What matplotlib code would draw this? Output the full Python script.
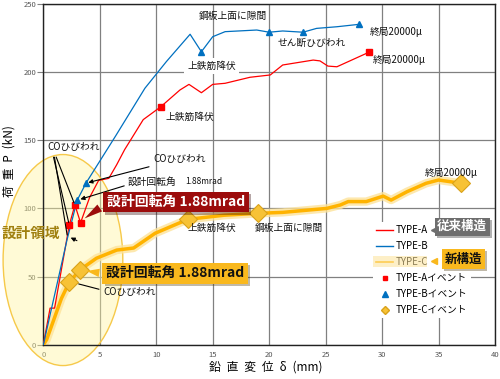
import matplotlib
matplotlib.use('Agg')
import matplotlib.pyplot as plt
import matplotlib.patheffects as pe
from matplotlib.lines import Line2D
from matplotlib.patches import Ellipse, Rectangle

plt.rcParams['font.family'] = ['Noto Sans CJK JP', 'DejaVu Sans']

# TYPE-A (従来構造)
type_a_x = [0, 0.6, 1.0, 2.3, 2.8, 3.3, 4.1, 4.9, 5.8, 6.5, 7.2, 8.85, 10.4, 12.1, 12.9,
            14.0, 15.0, 16.1, 18.3, 20.1, 21.2, 23.9, 24.5, 25.2, 26.0, 28.8]
type_a_y = [0, 27, 27, 87.8, 102.5, 89.5, 108, 120.5, 122, 132, 143, 165, 174.4, 186.7, 190.8,
            184.7, 190.8, 191.6, 196, 197.7, 205, 208.6, 208, 204.2, 203.7, 214.2]
type_a_ev_x = [2.3, 2.8, 3.3, 10.4, 28.8]
type_a_ev_y = [87.8, 102.5, 89.5, 174.4, 214.2]

# TYPE-B (従来構造)
type_b_x = [0, 2.1, 3.0, 3.8, 6.4, 9.0, 10.9, 13.0, 14.0, 15.0, 16.1, 18.9, 20.0, 21.2,
            23.0, 24.2, 26.0, 28.0]
type_b_y = [0, 77, 106, 118.8, 153, 188, 207.5, 227.5, 214.7, 225.7, 229.4, 230.6, 229, 229.9,
            229, 231.8, 233, 234.8]
type_b_ev_x = [3.0, 3.8, 14.0, 20.0, 23.0, 28.0]
type_b_ev_y = [106, 118.8, 214.7, 229, 229, 234.8]

# TYPE-C (新構造)
type_c_x = [0, 0.3, 1.6, 2.3, 3.25, 4.7, 6.5, 8.0, 9.9, 12.8, 16.0, 19.0, 21.2, 25.1, 26.3,
            27.0, 28.6, 30.1, 30.8, 32.2, 33.9, 35.0, 37.0]
type_c_y = [0, 4, 34, 46, 55, 63.5, 69.5, 71, 81.8, 92, 95, 96.4, 97.1, 100, 102.5,
            105, 105, 109, 106.1, 112.2, 118.4, 120.8, 118.4]
type_c_ev_x = [2.3, 3.25, 12.8, 19.0, 37.0]
type_c_ev_y = [46, 55, 92, 96.4, 118.4]

RED = '#ff0000'
BLUE = '#0070c0'
GOLD = '#ffb300'
HALO = '#fde39a'

fig = plt.figure(figsize=(5.0, 3.79), dpi=100)
ax = fig.add_axes([0.0866, 0.0897, 0.9034, 0.901])
ax.set_xlim(0, 40)
ax.set_ylim(0, 250)
ax.set_xticks(range(0, 41, 5))
ax.set_yticks(range(0, 251, 50))
ax.grid(True, color='#808080', lw=0.9)
ax.set_axisbelow(True)
ax.tick_params(axis='x', length=0, labelsize=5.5, labelcolor='#555555', pad=4)
ax.tick_params(axis='y', length=4, width=0.8, color='#808080', labelsize=5.5,
               labelcolor='#555555', pad=1)
for s in ax.spines.values():
    s.set_color('#222222')
    s.set_linewidth(1)

sp = '\u2002'
ax.set_xlabel(sp.join(['鉛', '直', '変', '位', 'δ', '(mm)']), fontsize=8.5)
ax.xaxis.set_label_coords(0.493, -0.046)
ax.set_ylabel(sp.join(['荷', '重', 'P', '(kN)']), fontsize=8.5)
ax.yaxis.set_label_coords(-0.062, 0.54)

# design region
ell = Ellipse((1.74, 62.2), 10.6, 154.5, facecolor=(1, 0.96, 0.62, 0.42),
              edgecolor='#f6c94a', lw=1, zorder=0.6, clip_on=False)
ax.add_patch(ell)
ax.text(-1.1, 82, '設計領域', fontsize=10.5, fontweight='bold', color='#a08010',
        ha='center', va='center', zorder=7)

# curves
ax.plot(type_c_x, type_c_y, color=HALO, lw=6, alpha=0.8, solid_capstyle='round', zorder=2)
ax.plot(type_c_x, type_c_y, color=GOLD, lw=2.5, zorder=3)
ax.plot(type_a_x, type_a_y, color=RED, lw=0.9, zorder=3)
ax.plot(type_b_x, type_b_y, color=BLUE, lw=0.9, zorder=3)
ax.plot(type_a_ev_x, type_a_ev_y, ls='none', marker='s', ms=4.3, color=RED, zorder=4)
ax.plot(type_b_ev_x, type_b_ev_y, ls='none', marker='^', ms=4.5, color=BLUE, zorder=4)
ax.plot(type_c_ev_x, type_c_ev_y, ls='none', marker='D', ms=9, mfc='#f7c236', mec='#d9a21a',
        mew=0.8, zorder=4)

lab = dict(fontsize=7, color='#111111', zorder=6)
ax.text(16.8, 240.8, '鋼板上面に隙間', ha='center', va='center', **lab)
ax.text(14.9, 204.2, '上鉄筋降伏', ha='center', va='center',
        bbox=dict(boxstyle='square,pad=0.35', fc='white', ec='none'), **lab)
ax.text(13.0, 167, '上鉄筋降伏', ha='center', va='center', **lab)
ax.text(23.8, 220.9, 'せん断ひびわれ', ha='center', va='center', **lab)
ax.text(28.9, 229.4, '終局20000μ', ha='left', va='center', **lab)
ax.text(29.2, 208.6, '終局20000μ', ha='left', va='center', **lab)
ax.text(33.8, 126.1, '終局20000μ', ha='left', va='center', **lab)
ax.text(12.8, 85.4, '上鉄筋降伏', ha='left', va='center', **lab)
ax.text(18.7, 85.4, '鋼板上面に隙間', ha='left', va='center', **lab)
ax.text(2.65, 145.2, 'COひびわれ', ha='center', va='center', **lab)
ax.text(12.1, 135.9, 'COひびわれ', ha='center', va='center', **lab)
ax.text(7.5, 119.5, '設計回転角', ha='left', va='center', **lab)
ax.text(12.6, 119.5, '1.88mrad', ha='left', va='center', fontsize=6, color='#111111', zorder=6)
ax.text(5.3, 39.0, 'COひびわれ', ha='left', va='center', **lab)

# leaders
line = dict(arrowstyle='-', color='black', lw=0.8)
arrow = dict(arrowstyle='-|>', color='black', lw=0.8, mutation_scale=6)
ax.annotate('', xy=(2.3, 87.8), xytext=(0.85, 139.5), arrowprops=line, zorder=5)
ax.annotate('', xy=(2.8, 102.5), xytext=(1.05, 139.5), arrowprops=line, zorder=5)
ax.annotate('', xy=(2.15, 78.5), xytext=(0.95, 139.5), arrowprops=line, zorder=5)
ax.annotate('', xy=(2.2, 79.5), xytext=(3.2, 75.5), arrowprops=arrow, zorder=5)
ax.annotate('', xy=(3.75, 118.4), xytext=(9.6, 131), arrowprops=arrow, zorder=5)
ax.annotate('', xy=(3.05, 106.1), xytext=(7.4, 117.1), arrowprops=arrow, zorder=5)
ax.annotate('', xy=(2.9, 45.2), xytext=(5.17, 40.3), arrowprops=line, zorder=5)

# callout boxes
shadow = [pe.SimplePatchShadow(offset=(1.5, -1.5), alpha=0.35)]
ax.annotate('', xy=(3.45, 91.5), xytext=(5.2, 101.5),
            arrowprops=dict(arrowstyle='wedge,tail_width=0.6', color='#9c0c0c', lw=0), zorder=6)
t1 = ax.text(11.75, 104.7, '設計回転角 1.88mrad', fontsize=10, fontweight='bold', color='white',
             ha='center', va='center', zorder=7,
             bbox=dict(boxstyle='square,pad=0.25', fc='#9c0c0c', ec='none'))
t1.get_bbox_patch().set_path_effects(shadow + [pe.Normal()])
ax.annotate('', xy=(3.6, 54.5), xytext=(5.2, 52.5),
            arrowprops=dict(arrowstyle='wedge,tail_width=0.6', color='#f9b81d', lw=0), zorder=6)
t2 = ax.text(11.67, 52.5, '設計回転角 1.88mrad', fontsize=10, fontweight='bold', color='#111111',
             ha='center', va='center', zorder=7,
             bbox=dict(boxstyle='square,pad=0.25', fc='#f9b81d', ec='none'))
t2.get_bbox_patch().set_path_effects(shadow + [pe.Normal()])

# legend
handles = [
    Line2D([], [], color=RED, lw=1),
    Line2D([], [], color=BLUE, lw=1),
    Line2D([], [], color=GOLD, lw=1.2),
    Line2D([], [], ls='none', marker='s', ms=3.5, color=RED),
    Line2D([], [], ls='none', marker='^', ms=4, color=BLUE),
    Line2D([], [], ls='none', marker='D', ms=4, mfc='#f7c236', mec='#d9a21a'),
]
labels = ['TYPE-A', 'TYPE-B', 'TYPE-C', 'TYPE-Aイベント', 'TYPE-Bイベント', 'TYPE-Cイベント']
leg = ax.legend(handles, labels, loc='upper left', bbox_to_anchor=(0.73, 0.36),
                borderaxespad=0, borderpad=0.3, fontsize=7, frameon=True, facecolor='white',
                edgecolor='none', framealpha=1, fancybox=False, handlelength=1.8,
                handletextpad=0.25, labelspacing=0.62)
leg.set_zorder(5)
ax.add_patch(Rectangle((0.730, 0.228), 0.1195, 0.032, transform=ax.transAxes,
                       facecolor=HALO, alpha=0.55, edgecolor='none', zorder=6))

t3 = ax.text(37.1, 86.7, '従来構造', fontsize=9, fontweight='bold', color='white',
             ha='center', va='center', zorder=7,
             bbox=dict(boxstyle='square,pad=0.2', fc='#6e6e6e', ec='none'))
t3.get_bbox_patch().set_path_effects(shadow + [pe.Normal()])
t4 = ax.text(37.2, 63.0, '新構造', fontsize=9, fontweight='bold', color='#111111',
             ha='center', va='center', zorder=7,
             bbox=dict(boxstyle='square,pad=0.25', fc='#f9b81d', ec='none'))
t4.get_bbox_patch().set_path_effects(shadow + [pe.Normal()])
ax.plot([34.6], [84.2], marker='<', ms=4, color='#6e6e6e', ls='none', zorder=7)
ax.plot([34.6], [61.5], marker='<', ms=4, color='#f9b81d', ls='none', zorder=7)

fig.savefig('out.png', dpi=100)
